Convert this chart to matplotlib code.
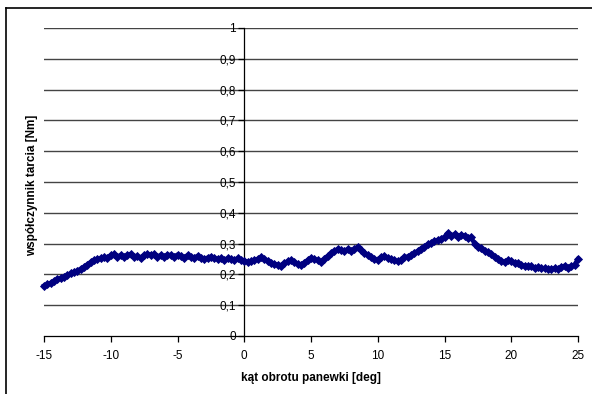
import numpy as np
import matplotlib
matplotlib.use('Agg')
import matplotlib.pyplot as plt
from matplotlib.lines import Line2D
from matplotlib.ticker import FuncFormatter

plt.rcParams['font.family'] = ['Liberation Sans', 'DejaVu Sans']
plt.rcParams['axes.unicode_minus'] = False

# friction coefficient, every 0.25 deg from -15 to 25
mu = [
    0.163, 0.168, 0.172, 0.178, 0.184, 0.188, 0.193, 0.198, 0.203, 0.208,
    0.212, 0.218, 0.224, 0.232, 0.240, 0.246, 0.250, 0.252, 0.256, 0.254,
    0.262, 0.266, 0.258, 0.262, 0.258, 0.262, 0.266, 0.256, 0.260, 0.252,
    0.262, 0.266, 0.264, 0.266, 0.258, 0.262, 0.256, 0.264, 0.262, 0.258,
    0.264, 0.260, 0.254, 0.262, 0.258, 0.254, 0.260, 0.254, 0.250, 0.254,
    0.258, 0.254, 0.250, 0.252, 0.246, 0.252, 0.250, 0.246, 0.252, 0.246,
    0.244, 0.240, 0.242, 0.246, 0.250, 0.256, 0.250, 0.244, 0.238, 0.234,
    0.232, 0.228, 0.236, 0.242, 0.246, 0.240, 0.234, 0.232, 0.238, 0.246,
    0.254, 0.250, 0.246, 0.240, 0.250, 0.260, 0.268, 0.276, 0.282, 0.278,
    0.276, 0.282, 0.276, 0.282, 0.290, 0.280, 0.270, 0.262, 0.256, 0.250,
    0.248, 0.256, 0.260, 0.254, 0.250, 0.246, 0.242, 0.248, 0.256, 0.258,
    0.262, 0.270, 0.276, 0.284, 0.290, 0.298, 0.302, 0.308, 0.312, 0.316,
    0.322, 0.334, 0.326, 0.330, 0.322, 0.328, 0.326, 0.318, 0.320, 0.300,
    0.290, 0.286, 0.276, 0.272, 0.266, 0.258, 0.250, 0.244, 0.240, 0.246,
    0.244, 0.238, 0.236, 0.230, 0.228, 0.226, 0.226, 0.222, 0.224, 0.220,
    0.220, 0.218, 0.216, 0.220, 0.218, 0.224, 0.228, 0.222, 0.226, 0.232,
    0.250,
]
angle = np.linspace(-15, 25, len(mu))

x_ticks = [-15, -10, -5, 0, 5, 10, 15, 20, 25]
y_ticks = [0, 0.1, 0.2, 0.3, 0.4, 0.5, 0.6, 0.7, 0.8, 0.9, 1]

fig = plt.figure(figsize=(5.92, 3.94), dpi=100)
ax = fig.add_axes([44 / 592, 1 - 336 / 394, 534 / 592, 308 / 394])

ax.set_xlim(-15, 25)
ax.set_ylim(0, 1)

# horizontal grid lines
for v in y_ticks[1:]:
    ax.axhline(v, color='#444444', lw=1.0, zorder=1)

ax.plot(angle, mu, color='#000080', lw=3.2, marker='D', markersize=4.2,
        markeredgewidth=0.6, zorder=3, clip_on=False)

for s in ['top', 'right']:
    ax.spines[s].set_visible(False)
ax.spines['left'].set_position(('data', 0))
ax.spines['bottom'].set_position(('data', 0))
ax.spines['left'].set_linewidth(0.9)
ax.spines['bottom'].set_linewidth(0.9)

ax.set_xticks(x_ticks)
ax.set_yticks(y_ticks)
ax.yaxis.set_major_formatter(FuncFormatter(lambda v, p: ('%g' % round(v, 1)).replace('.', ',')))
ax.tick_params(axis='both', direction='out', length=4, width=0.9, labelsize=8.5)
ax.tick_params(axis='x', pad=6)
ax.tick_params(axis='y', pad=2)

fig.text(311 / 592, 1 - 378 / 394, 'kąt obrotu panewki [deg]', ha='center', va='center',
         fontsize=8.5, fontweight='bold')
fig.text(32 / 592, 1 - 185 / 394, 'współczynnik tarcia [Nm]', ha='center', va='center',
         rotation=90, fontsize=8.5, fontweight='bold')

# outer chart frame
fig.add_artist(Line2D([6 / 592, 1], [1 - 8 / 394, 1 - 8 / 394], color='black', lw=1.2))
fig.add_artist(Line2D([6 / 592, 6 / 592], [0, 1 - 8 / 394], color='black', lw=1.2))

fig.savefig('out.png', dpi=100)
